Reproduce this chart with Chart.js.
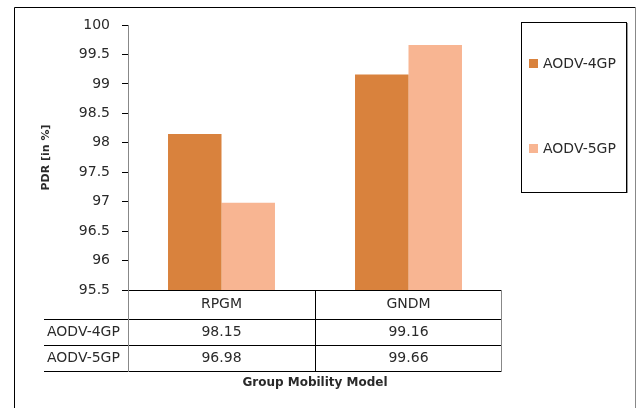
<!DOCTYPE html>
<html>
<head>
<meta charset="utf-8">
<script src="https://cdn.jsdelivr.net/npm/chart.js@4.4.0/dist/chart.umd.min.js"></script>
<style>
  html, body { margin:0; padding:0; background:#fff; }
  #wrap { width:641px; height:408px; position:relative; }
</style>
</head>
<body>
<div id="wrap"><canvas id="c" width="641" height="408"></canvas></div>
<script>
// data
const categories = ['RPGM', 'GNDM'];
const seriesNames = ['AODV-4GP', 'AODV-5GP'];
const aodv4gp = [98.15, 99.16];
const aodv5gp = [96.98, 99.66];
const colors = ['#D9823D', '#F8B592'];

const FONT = "'DejaVu Sans', sans-serif";
const TXT = '#2a2a2a';

// table + legend + frame drawn over the chart
const extras = {
  id: 'extras',
  afterDraw(chart){
    const ctx = chart.ctx;
    const ca = chart.chartArea;
    const xs = chart.scales.x;
    const rows = [29, 26, 26];
    const tabLeft = 44;
    const y0 = ca.bottom, y1 = y0 + rows[0], y2 = y1 + rows[1], y3 = y2 + rows[2];
    const series = [aodv4gp, aodv5gp];

    ctx.save();
    // outer frame
    ctx.lineWidth = 1;
    ctx.strokeStyle = '#000';
    ctx.beginPath();
    ctx.moveTo(14.5, 420); ctx.lineTo(14.5, 7.5); ctx.lineTo(635.5, 7.5);
    ctx.stroke();
    ctx.strokeStyle = '#888';
    ctx.beginPath(); ctx.moveTo(635.5, 7.5); ctx.lineTo(635.5, 420); ctx.stroke();

    // table lines
    ctx.strokeStyle = '#000';
    ctx.beginPath();
    ctx.moveTo(ca.left, y0 + 0.5); ctx.lineTo(ca.right, y0 + 0.5);
    [y1, y2, y3].forEach(y => { ctx.moveTo(tabLeft, y + 0.5); ctx.lineTo(ca.right, y + 0.5); });
    for(let i = 1; i < categories.length; i++){
      const bx = Math.round((xs.getPixelForValue(i - 1) + xs.getPixelForValue(i)) / 2) + 0.5;
      ctx.moveTo(bx, y0); ctx.lineTo(bx, y3);
    }
    ctx.stroke();
    ctx.strokeStyle = '#888';
    ctx.beginPath();
    ctx.moveTo(Math.round(ca.left) + 0.5, y0); ctx.lineTo(Math.round(ca.left) + 0.5, y3 + 1);
    ctx.moveTo(Math.round(ca.right) - 0.5, y0); ctx.lineTo(Math.round(ca.right) - 0.5, y3 + 1);
    ctx.stroke();

    // table text
    ctx.fillStyle = TXT;
    ctx.font = '14px ' + FONT;
    ctx.textBaseline = 'middle';
    ctx.textAlign = 'center';
    categories.forEach((c, i) => {
      const cx = xs.getPixelForValue(i);
      ctx.fillText(c, cx, (y0 + y1) / 2);
      ctx.fillText(series[0][i].toFixed(2), cx, (y1 + y2) / 2);
      ctx.fillText(series[1][i].toFixed(2), cx, (y2 + y3) / 2);
    });
    ctx.textAlign = 'left';
    ctx.fillText(seriesNames[0], tabLeft + 3, (y1 + y2) / 2);
    ctx.fillText(seriesNames[1], tabLeft + 3, (y2 + y3) / 2);

    // x title
    ctx.font = 'bold 12px ' + FONT;
    ctx.textAlign = 'center';
    ctx.fillText('Group Mobility Model', (ca.left + ca.right) / 2, y3 + 12);

    // legend
    ctx.strokeStyle = '#000';
    ctx.strokeRect(521.5, 22.5, 105, 170);
    ctx.strokeStyle = '#999';
    ctx.beginPath(); ctx.moveTo(627.5, 23); ctx.lineTo(627.5, 193); ctx.stroke();
    ctx.font = '14px ' + FONT;
    ctx.textAlign = 'left';
    [63, 148].forEach((ly, i) => {
      ctx.fillStyle = colors[i];
      ctx.fillRect(529, ly - 4, 9, 9);
      ctx.fillStyle = TXT;
      ctx.fillText(seriesNames[i], 543, ly + 1);
    });
    ctx.restore();
  }
};

new Chart(document.getElementById('c'), {
  type: 'bar',
  data: {
    labels: categories,
    datasets: [
      { label: seriesNames[0], data: aodv4gp, backgroundColor: colors[0] },
      { label: seriesNames[1], data: aodv5gp, backgroundColor: colors[1] }
    ]
  },
  options: {
    responsive: false,
    animation: false,
    devicePixelRatio: 1,
    layout: { padding: { left: 40, top: 25, right: 139, bottom: 118 } },
    datasets: { bar: { barPercentage: 1, categoryPercentage: 0.572 } },
    plugins: { legend: { display: false }, tooltip: { enabled: false } },
    scales: {
      x: { display: false },
      y: {
        min: 95.5, max: 100,
        ticks: {
          stepSize: 0.5, padding: 12, color: TXT, font: { family: FONT, size: 14 },
          callback: v => String(parseFloat(v.toFixed(1)))
        },
        grid: { drawOnChartArea: false, drawTicks: true, tickLength: 6, color: '#000' },
        border: { color: '#888' },
        title: { display: true, text: 'PDR [in %]', color: TXT, padding: 0, font: { family: FONT, size: 11, weight: 'bold' } },
        afterFit(scale){ scale.width = 88; }
      }
    }
  },
  plugins: [extras]
});
</script>
</body>
</html>
